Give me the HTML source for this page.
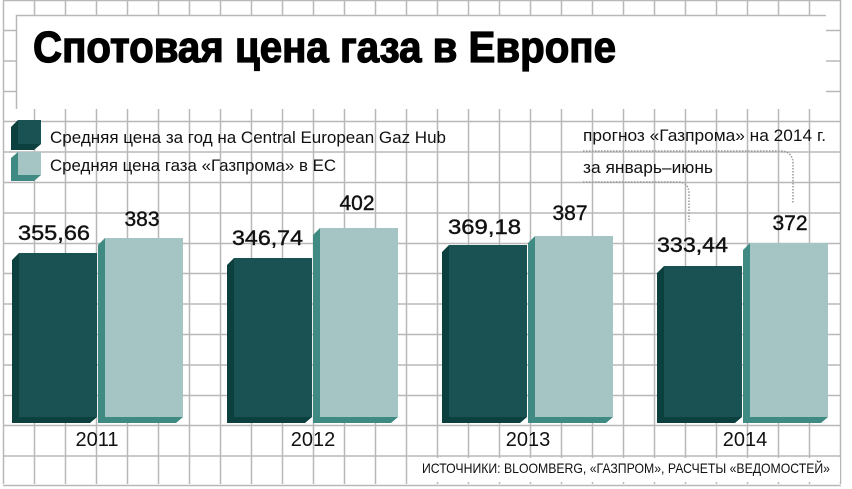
<!DOCTYPE html>
<html><head><meta charset="utf-8"><style>html,body{margin:0;padding:0;background:#fff}svg{display:block}</style></head>
<body>
<svg width="852" height="489" viewBox="0 0 852 489" xmlns="http://www.w3.org/2000/svg" font-family="'Liberation Sans Narrow','Liberation Sans',sans-serif">
<rect width="852" height="489" fill="#fff"/>
<g stroke="#b8b8b8" stroke-width="1.5">
<line x1="3.5" y1="0" x2="3.5" y2="484"/><line x1="34.5" y1="0" x2="34.5" y2="484"/><line x1="65.5" y1="0" x2="65.5" y2="484"/><line x1="96.5" y1="0" x2="96.5" y2="484"/><line x1="127.5" y1="0" x2="127.5" y2="484"/><line x1="158.5" y1="0" x2="158.5" y2="484"/><line x1="189.5" y1="0" x2="189.5" y2="484"/><line x1="220.5" y1="0" x2="220.5" y2="484"/><line x1="251.5" y1="0" x2="251.5" y2="484"/><line x1="282.5" y1="0" x2="282.5" y2="484"/><line x1="313.5" y1="0" x2="313.5" y2="484"/><line x1="344.5" y1="0" x2="344.5" y2="484"/><line x1="375.5" y1="0" x2="375.5" y2="484"/><line x1="406.5" y1="0" x2="406.5" y2="484"/><line x1="437.5" y1="0" x2="437.5" y2="484"/><line x1="468.5" y1="0" x2="468.5" y2="484"/><line x1="499.5" y1="0" x2="499.5" y2="484"/><line x1="530.5" y1="0" x2="530.5" y2="484"/><line x1="561.5" y1="0" x2="561.5" y2="484"/><line x1="592.5" y1="0" x2="592.5" y2="484"/><line x1="623.5" y1="0" x2="623.5" y2="484"/><line x1="654.5" y1="0" x2="654.5" y2="484"/><line x1="685.5" y1="0" x2="685.5" y2="484"/><line x1="716.5" y1="0" x2="716.5" y2="484"/><line x1="747.5" y1="0" x2="747.5" y2="484"/><line x1="778.5" y1="0" x2="778.5" y2="484"/><line x1="809.5" y1="0" x2="809.5" y2="484"/><line x1="840.5" y1="0" x2="840.5" y2="484"/>
<line x1="3" y1="0.5" x2="841" y2="0.5"/><line x1="3" y1="30.5" x2="841" y2="30.5"/><line x1="3" y1="61" x2="841" y2="61"/><line x1="3" y1="91.5" x2="841" y2="91.5"/><line x1="3" y1="121.5" x2="841" y2="121.5"/><line x1="3" y1="152" x2="841" y2="152"/><line x1="3" y1="182.5" x2="841" y2="182.5"/><line x1="3" y1="213" x2="841" y2="213"/><line x1="3" y1="243.5" x2="841" y2="243.5"/><line x1="3" y1="273.5" x2="841" y2="273.5"/><line x1="3" y1="304" x2="841" y2="304"/><line x1="3" y1="334.5" x2="841" y2="334.5"/><line x1="3" y1="365" x2="841" y2="365"/><line x1="3" y1="395.5" x2="841" y2="395.5"/><line x1="3" y1="425.5" x2="841" y2="425.5"/><line x1="3" y1="456" x2="841" y2="456"/><line x1="3" y1="485.5" x2="841" y2="485.5"/>
</g>
<rect x="16" y="15" width="810" height="94" fill="#fff"/>
<path d="M16.5 109 V15.5 H826" fill="none" stroke="#b8b8b8" stroke-width="1.5"/>
<text x="33" y="62" font-family="'Liberation Sans',sans-serif" font-weight="bold" font-size="44" stroke="#000" stroke-width="1.3" textLength="583" lengthAdjust="spacingAndGlyphs">Спотовая цена газа в Европе</text>
<polygon points="11,127 18,120 41,120 41,144 34,150 11,150" fill="#0b403f"/><rect x="18" y="120" width="23" height="24" fill="#1a5254"/>
<polygon points="11,158 18,152 41,152 41,175 34,181 11,181" fill="#3f8a82"/><rect x="18" y="152" width="23" height="23" fill="#a5c5c4"/>
<text x="50" y="143" font-size="17" textLength="396" lengthAdjust="spacingAndGlyphs" fill="#111">Средняя цена за год на Central European Gaz Hub</text>
<text x="50" y="171" font-size="17" textLength="286" lengthAdjust="spacingAndGlyphs" fill="#111">Средняя цена газа «Газпрома» в ЕС</text>
<text x="583" y="141" font-size="17" textLength="243" lengthAdjust="spacingAndGlyphs" fill="#111">прогноз «Газпрома» на 2014 г.</text>
<text x="583" y="173" font-size="17" textLength="130" lengthAdjust="spacingAndGlyphs" fill="#111">за январь–июнь</text>
<path d="M583 151 H780 Q793 151 793 164 V203" fill="none" stroke="#999" stroke-width="1.5" stroke-dasharray="1.5 1.5"/>
<path d="M583 182 H678 Q689 182 689 194 V222" fill="none" stroke="#999" stroke-width="1.5" stroke-dasharray="1.5 1.5"/>
<g>
<polygon points="12,260 19,253 19,417 97,417 90,423 12,423" fill="#0b403f"/><rect x="19" y="253" width="78" height="164" fill="#1a5254"/>
<polygon points="98,245 105,238 105,417 183,417 176,423 98,423" fill="#3f8a82"/><rect x="105" y="238" width="78" height="179" fill="#a5c5c4"/>
<polygon points="227,265 234,258 234,417 312,417 305,423 227,423" fill="#0b403f"/><rect x="234" y="258" width="78" height="159" fill="#1a5254"/>
<polygon points="313,235 320,228 320,417 398,417 391,423 313,423" fill="#3f8a82"/><rect x="320" y="228" width="78" height="189" fill="#a5c5c4"/>
<polygon points="442,252 449,245 449,417 527,417 520,423 442,423" fill="#0b403f"/><rect x="449" y="245" width="78" height="172" fill="#1a5254"/>
<polygon points="528,243 535,236 535,417 613,417 606,423 528,423" fill="#3f8a82"/><rect x="535" y="236" width="78" height="181" fill="#a5c5c4"/>
<polygon points="657,273 664,266 664,417 742,417 735,423 657,423" fill="#0b403f"/><rect x="664" y="266" width="78" height="151" fill="#1a5254"/>
<polygon points="743,250 750,243 750,417 828,417 821,423 743,423" fill="#3f8a82"/><rect x="750" y="243" width="78" height="174" fill="#a5c5c4"/>
</g>
<g font-size="21" fill="#111" stroke="#111" stroke-width="0.4">
<text x="18" y="240" textLength="72" lengthAdjust="spacingAndGlyphs">355,66</text>
<text x="142" y="226" text-anchor="middle">383</text>
<text x="232" y="245" textLength="71" lengthAdjust="spacingAndGlyphs">346,74</text>
<text x="357" y="210" text-anchor="middle">402</text>
<text x="448" y="234" textLength="73" lengthAdjust="spacingAndGlyphs">369,18</text>
<text x="570" y="220" text-anchor="middle">387</text>
<text x="657" y="252" textLength="71" lengthAdjust="spacingAndGlyphs">333,44</text>
<text x="790" y="230" text-anchor="middle">372</text>
</g>
<g font-size="20" fill="#111" text-anchor="middle">
<text x="97" y="446">2011</text><text x="313" y="446">2012</text><text x="528" y="446">2013</text><text x="745" y="446">2014</text>
</g>
<rect x="416" y="458" width="424" height="24" fill="#fff"/>
<text x="422" y="473" font-size="14" textLength="408" lengthAdjust="spacingAndGlyphs" fill="#111">ИСТОЧНИКИ: BLOOMBERG, «ГАЗПРОМ», РАСЧЕТЫ «ВЕДОМОСТЕЙ»</text>
</svg>
</body></html>
